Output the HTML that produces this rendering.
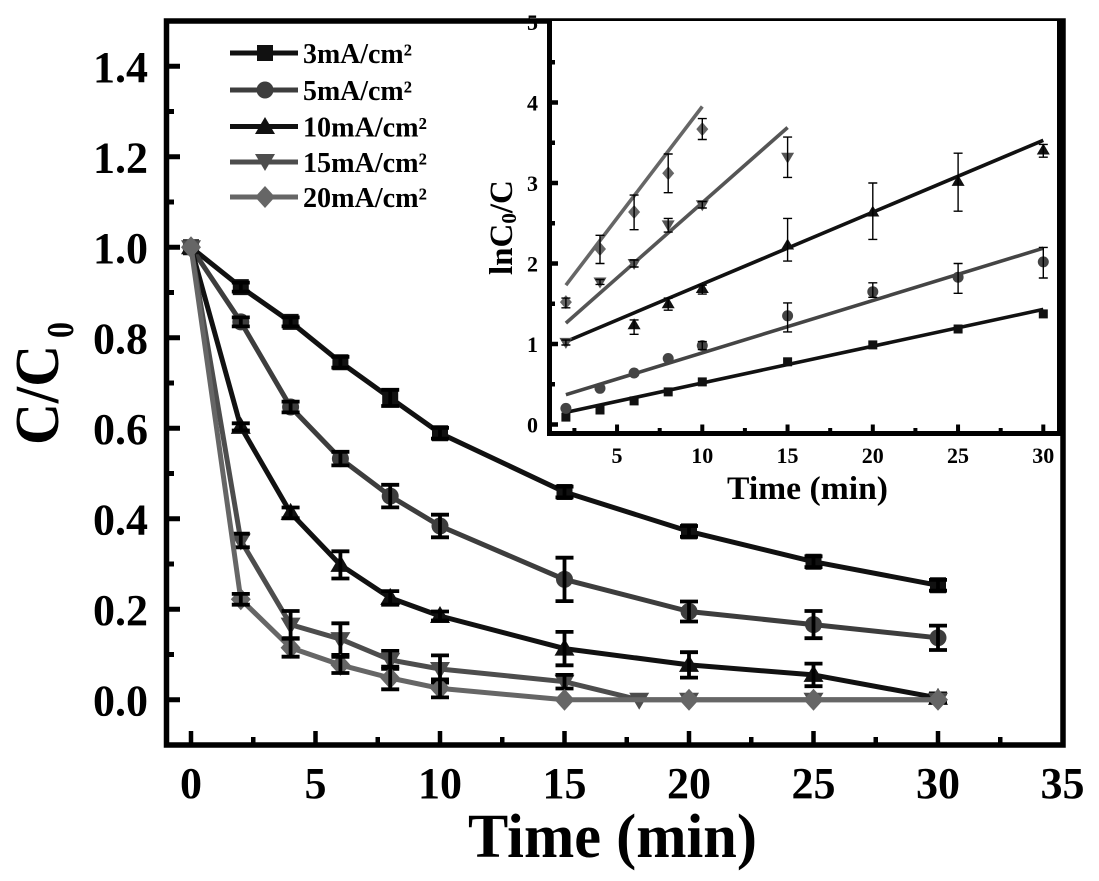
<!DOCTYPE html>
<html><head><meta charset="utf-8"><style>
html,body{margin:0;padding:0;background:#fff;}
svg{display:block;}
text{font-family:"Liberation Serif","Times New Roman",serif;font-weight:bold;fill:#000;}
</style></head><body>
<svg width="1099" height="881" viewBox="0 0 1099 881" xmlns="http://www.w3.org/2000/svg">
<defs>
<path id="sq" d="M-8,-8h16v16h-16z"/>
<circle id="ci" r="8.5"/>
<path id="tr" d="M0,-10L10,7L-10,7z"/>
<path id="dt" d="M0,10L10,-7L-10,-7z"/>
<path id="di" d="M0,-11L10,0L0,11L-10,0z"/>
<path id="isq" d="M-4.5,-4.5h9v9h-9z"/>
<circle id="ici" r="5.5"/>
<path id="itr" d="M0,-6.5L6.5,4.5L-6.5,4.5z"/>
<path id="idt" d="M0,6.5L6.5,-4.5L-6.5,-4.5z"/>
<path id="idi" d="M0,-7L6,0L0,7L-6,0z"/>
</defs>
<rect width="1099" height="881" fill="#fff"/>

<!-- main series -->
<g fill="none" stroke-width="5" stroke-linejoin="round">
<polyline stroke="#111" points="191,247.3 240.8,287.1 290.6,321.9 340.4,362.2 390.2,397.9 440,433.2 564.5,492 689,531.4 813.5,561.7 938,585.3"/>
</g>
<g fill="#111">
<use href="#sq" x="191" y="247.3"/><use href="#sq" x="240.8" y="287.1"/><use href="#sq" x="290.6" y="321.9"/><use href="#sq" x="340.4" y="362.2"/><use href="#sq" x="390.2" y="397.9"/><use href="#sq" x="440" y="433.2"/><use href="#sq" x="564.5" y="492"/><use href="#sq" x="689" y="531.4"/><use href="#sq" x="813.5" y="561.7"/><use href="#sq" x="938" y="585.3"/>
</g>
<path stroke="#000" stroke-width="3.8" fill="none" d="M240.8,282.6V291.6M231.8,282.6H249.8M231.8,291.6H249.8 M290.6,317.4V326.4M281.6,317.4H299.6M281.6,326.4H299.6 M340.4,356.8V367.6M331.4,356.8H349.4M331.4,367.6H349.4 M390.2,389.8V406M381.2,389.8H399.2M381.2,406H399.2 M440,427.8V438.6M431,427.8H449M431,438.6H449 M564.5,486.6V497.4M555.5,486.6H573.5M555.5,497.4H573.5 M689,526V536.8M680,526H698M680,536.8H698 M813.5,556.3V567.1M804.5,556.3H822.5M804.5,567.1H822.5 M938,579.9V590.7M929,579.9H947M929,590.7H947"/>

<polyline fill="none" stroke-width="5" stroke-linejoin="round" stroke="#3d3d3d" points="191,247.3 240.8,321.9 290.6,407 340.4,458.6 390.2,496.1 440,526 564.5,579.4 689,611.5 813.5,624.6 938,637.8"/>
<g fill="#3d3d3d">
<use href="#ci" x="191" y="247.3"/><use href="#ci" x="240.8" y="321.9"/><use href="#ci" x="290.6" y="407"/><use href="#ci" x="340.4" y="458.6"/><use href="#ci" x="390.2" y="496.1"/><use href="#ci" x="440" y="526"/><use href="#ci" x="564.5" y="579.4"/><use href="#ci" x="689" y="611.5"/><use href="#ci" x="813.5" y="624.6"/><use href="#ci" x="938" y="637.8"/>
</g>
<path stroke="#000" stroke-width="3.8" fill="none" d="M240.8,317.4V326.4M231.8,317.4H249.8M231.8,326.4H249.8 M290.6,401.6V412.4M281.6,401.6H299.6M281.6,412.4H299.6 M340.4,451.8V465.4M331.4,451.8H349.4M331.4,465.4H349.4 M390.2,484.8V507.4M381.2,484.8H399.2M381.2,507.4H399.2 M440,514.7V537.3M431,514.7H449M431,537.3H449 M564.5,557.7V601.1M555.5,557.7H573.5M555.5,601.1H573.5 M689,601.5V621.5M680,601.5H698M680,621.5H698 M813.5,611V638.2M804.5,611H822.5M804.5,638.2H822.5 M938,625.6V650M929,625.6H947M929,650H947"/>

<polyline fill="none" stroke-width="5" stroke-linejoin="round" stroke="#111" points="191,247.3 240.8,426.9 290.6,512.9 340.4,564.9 390.2,597.9 440,616 564.5,648.6 689,664.9 813.5,674.9 938,697.9"/>
<g fill="#111">
<use href="#tr" x="191" y="247.3"/><use href="#tr" x="240.8" y="426.9"/><use href="#tr" x="290.6" y="512.9"/><use href="#tr" x="340.4" y="564.9"/><use href="#tr" x="390.2" y="597.9"/><use href="#tr" x="440" y="616"/><use href="#tr" x="564.5" y="648.6"/><use href="#tr" x="689" y="664.9"/><use href="#tr" x="813.5" y="674.9"/><use href="#tr" x="938" y="697.9"/>
</g>
<path stroke="#000" stroke-width="3.8" fill="none" d="M240.8,423.3V430.5M231.8,423.3H249.8M231.8,430.5H249.8 M290.6,507.5V518.3M281.6,507.5H299.6M281.6,518.3H299.6 M340.4,551.3V578.5M331.4,551.3H349.4M331.4,578.5H349.4 M390.2,591.1V604.7M381.2,591.1H399.2M381.2,604.7H399.2 M440,611.5V620.5M431,611.5H449M431,620.5H449 M564.5,631.9V665.3M555.5,631.9H573.5M555.5,665.3H573.5 M689,652.2V677.6M680,652.2H698M680,677.6H698 M813.5,663.6V686.2M804.5,663.6H822.5M804.5,686.2H822.5 M938,693.4V702.4M929,693.4H947M929,702.4H947"/>

<polyline fill="none" stroke-width="5" stroke-linejoin="round" stroke="#4d4d4d" points="191,247.3 240.8,540.5 290.6,624.6 340.4,639.1 390.2,659.9 440,669 564.5,681.7 639.2,699.8 689,699.8 813.5,699.8 938,699.8"/>
<g fill="#4d4d4d">
<use href="#dt" x="191" y="247.3"/><use href="#dt" x="240.8" y="540.5"/><use href="#dt" x="290.6" y="624.6"/><use href="#dt" x="340.4" y="639.1"/><use href="#dt" x="390.2" y="659.9"/><use href="#dt" x="440" y="669"/><use href="#dt" x="564.5" y="681.7"/><use href="#dt" x="639.2" y="699.8"/><use href="#dt" x="689" y="699.8"/><use href="#dt" x="813.5" y="699.8"/><use href="#dt" x="938" y="699.8"/>
</g>
<path stroke="#000" stroke-width="3.8" fill="none" d="M240.8,533.7V547.3M231.8,533.7H249.8M231.8,547.3H249.8 M290.6,611V638.2M281.6,611H299.6M281.6,638.2H299.6 M340.4,623.3V654.9M331.4,623.3H349.4M331.4,654.9H349.4 M390.2,650.9V668.9M381.2,650.9H399.2M381.2,668.9H399.2 M440,655.4V682.6M431,655.4H449M431,682.6H449 M564.5,674.9V688.5M555.5,674.9H573.5M555.5,688.5H573.5"/>

<polyline fill="none" stroke-width="5" stroke-linejoin="round" stroke="#666" points="191,247.3 240.8,599.3 290.6,647.7 340.4,664.9 390.2,678 440,688.4 564.5,699.8 689,699.8 813.5,699.8 938,699.8"/>
<g fill="#666">
<use href="#di" x="191" y="247.3"/><use href="#di" x="240.8" y="599.3"/><use href="#di" x="290.6" y="647.7"/><use href="#di" x="340.4" y="664.9"/><use href="#di" x="390.2" y="678"/><use href="#di" x="440" y="688.4"/><use href="#di" x="564.5" y="699.8"/><use href="#di" x="689" y="699.8"/><use href="#di" x="813.5" y="699.8"/><use href="#di" x="938" y="699.8"/>
</g>
<path stroke="#000" stroke-width="3.8" fill="none" d="M240.8,593.9V604.7M231.8,593.9H249.8M231.8,604.7H249.8 M290.6,638.7V656.7M281.6,638.7H299.6M281.6,656.7H299.6 M340.4,656.8V673M331.4,656.8H349.4M331.4,673H349.4 M390.2,666.7V689.3M381.2,666.7H399.2M381.2,689.3H399.2 M440,679.4V697.4M431,679.4H449M431,697.4H449"/>

<!-- main ticks -->
<path stroke="#000" stroke-width="5" fill="none" d="M169,699.75H180M169,609.25H180M169,518.75H180M169,428.25H180M169,337.75H180M169,247.25H180M169,156.75H180M169,66.25H180 M169,654.5H174M169,564H174M169,473.5H174M169,383H174M169,292.5H174M169,202H174M169,111.5H174"/>
<path stroke="#000" stroke-width="4.5" fill="none" d="M191,743V731M315.5,743V731M440,743V731M564.5,743V731M689,743V731M813.5,743V731M938,743V731 M253.25,743V737M377.75,743V737M502.25,743V737M626.75,743V737M751.25,743V737M875.75,743V737M1000.25,743V737"/>
<!-- main frame -->
<rect x="166.5" y="21" width="896.5" height="724" fill="none" stroke="#000" stroke-width="5.5"/>

<!-- main tick labels -->
<g font-size="44" text-anchor="end">
<text x="148" y="715.25">0.0</text>
<text x="148" y="624.75">0.2</text>
<text x="148" y="534.25">0.4</text>
<text x="148" y="443.75">0.6</text>
<text x="148" y="353.25">0.8</text>
<text x="148" y="262.75">1.0</text>
<text x="148" y="172.25">1.2</text>
<text x="148" y="81.75">1.4</text>
</g>
<g font-size="44" text-anchor="middle">
<text x="191" y="798">0</text>
<text x="315.5" y="798">5</text>
<text x="440" y="798">10</text>
<text x="564.5" y="798">15</text>
<text x="689" y="798">20</text>
<text x="813.5" y="798">25</text>
<text x="938" y="798">30</text>
<text x="1062.5" y="798">35</text>
</g>
<text x="468" y="857" font-size="62" textLength="289" lengthAdjust="spacingAndGlyphs">Time (min)</text>
<text transform="translate(58,445) rotate(-90)" font-size="62" textLength="100" lengthAdjust="spacingAndGlyphs">C/C</text>
<text transform="translate(73,338) rotate(-90)" font-size="38" textLength="16" lengthAdjust="spacingAndGlyphs">0</text>

<!-- legend -->
<g stroke-width="5" fill="none">
<path stroke="#111" d="M230,53H298"/>
<path stroke="#3d3d3d" d="M230,90H298"/>
<path stroke="#111" d="M230,126.5H298"/>
<path stroke="#4d4d4d" d="M230,162H298"/>
<path stroke="#666" d="M230,197H298"/>
</g>
<use href="#sq" x="265" y="53" fill="#111"/>
<use href="#ci" x="265" y="90" fill="#3d3d3d"/>
<use href="#tr" x="265" y="127" fill="#111"/>
<use href="#dt" x="265" y="161" fill="#4d4d4d"/>
<use href="#di" x="265" y="197" fill="#666"/>
<g font-size="28">
<text x="303" y="63" textLength="109" lengthAdjust="spacingAndGlyphs">3mA/cm²</text>
<text x="303" y="100" textLength="109" lengthAdjust="spacingAndGlyphs">5mA/cm²</text>
<text x="303" y="136.5" textLength="124" lengthAdjust="spacingAndGlyphs">10mA/cm²</text>
<text x="303" y="172" textLength="124" lengthAdjust="spacingAndGlyphs">15mA/cm²</text>
<text x="303" y="207" textLength="124" lengthAdjust="spacingAndGlyphs">20mA/cm²</text>
</g>

<!-- inset -->
<rect x="549.5" y="21" width="510" height="412.5" fill="#fff"/>
<g stroke-width="3.6" fill="none" stroke-linecap="butt">
<line x1="565.9" y1="412.4" x2="1043.3" y2="309.4" stroke="#111"/>
<line x1="565.9" y1="394.7" x2="1043.3" y2="248.2" stroke="#444"/>
<line x1="565.9" y1="341.6" x2="1043.3" y2="140.3" stroke="#111"/>
<line x1="565.9" y1="323.1" x2="787.6" y2="127.5" stroke="#555"/>
<line x1="565.9" y1="285.2" x2="702.3" y2="106.5" stroke="#666"/>
</g>
<g fill="#111">
<use href="#isq" x="565.9" y="417.1"/><use href="#isq" x="600" y="410"/><use href="#isq" x="634.1" y="400.9"/><use href="#isq" x="668.2" y="391.9"/><use href="#isq" x="702.3" y="381.9"/><use href="#isq" x="787.6" y="361.8"/><use href="#isq" x="872.8" y="344.9"/><use href="#isq" x="958.1" y="329"/><use href="#isq" x="1043.3" y="313.9"/>
</g>
<g fill="#444">
<use href="#ici" x="565.9" y="408.4"/><use href="#ici" x="600" y="388.3"/><use href="#ici" x="634.1" y="373"/><use href="#ici" x="668.2" y="358.5"/><use href="#ici" x="702.3" y="345.6"/><use href="#ici" x="787.6" y="315.8"/><use href="#ici" x="872.8" y="291.7"/><use href="#ici" x="958.1" y="277.2"/><use href="#ici" x="1043.3" y="261.9"/>
</g>
<g fill="#111">
<use href="#itr" x="634.1" y="324.7"/><use href="#itr" x="668.2" y="303.75"/><use href="#itr" x="702.3" y="288.5"/><use href="#itr" x="787.6" y="245"/><use href="#itr" x="872.8" y="212"/><use href="#itr" x="958.1" y="181.4"/><use href="#itr" x="1043.3" y="150"/>
</g>
<g fill="#555">
<use href="#idt" x="565.9" y="342.4"/><use href="#idt" x="600" y="282"/><use href="#idt" x="634.1" y="263.5"/><use href="#idt" x="668.2" y="224.9"/><use href="#idt" x="702.3" y="204.7"/><use href="#idt" x="787.6" y="157.2"/>
</g>
<g fill="#666">
<use href="#idi" x="565.9" y="302.1"/><use href="#idi" x="600" y="249"/><use href="#idi" x="634.1" y="212"/><use href="#idi" x="668.2" y="173.3"/><use href="#idi" x="702.3" y="129.1"/>
</g>
<path stroke="#000" stroke-width="1.4" fill="none" d="
M565.9,298.1V307.8M561.4,298.1H570.4M561.4,307.8H570.4
M600,235.3V263.5M595.5,235.3H604.5M595.5,263.5H604.5
M634.1,195.1V229.7M629.6,195.1H638.6M629.6,229.7H638.6
M668.2,154V192.7M663.7,154H672.7M663.7,192.7H672.7
M702.3,118.6V139.5M697.8,118.6H706.8M697.8,139.5H706.8
M565.9,340V345M561.4,340H570.4M561.4,345H570.4
M600,279.6V284.4M595.5,279.6H604.5M595.5,284.4H604.5
M634.1,260V267M629.6,260H638.6M629.6,267H638.6
M668.2,218.4V232.1M663.7,218.4H672.7M663.7,232.1H672.7
M702.3,201.5V208M697.8,201.5H706.8M697.8,208H706.8
M787.6,137.1V177.4M783.1,137.1H792.1M783.1,177.4H792.1
M634.1,319.9V334.3M629.6,319.9H638.6M629.6,334.3H638.6
M668.2,298.1V310.2M663.7,298.1H672.7M663.7,310.2H672.7
M702.3,285.2V294.1M697.8,285.2H706.8M697.8,294.1H706.8
M787.6,218.4V261.1M783.1,218.4H792.1M783.1,261.1H792.1
M872.8,183V239.4M868.3,183H877.3M868.3,239.4H877.3
M958.1,153.2V211.2M953.6,153.2H962.6M953.6,211.2H962.6
M1043.3,144.4V157.2M1038.8,144.4H1047.8M1038.8,157.2H1047.8
M702.3,341.6V349.6M697.8,341.6H706.8M697.8,349.6H706.8
M787.6,302.9V331.9M783.1,302.9H792.1M783.1,331.9H792.1
M872.8,282.8V297.3M868.3,282.8H877.3M868.3,297.3H877.3
M958.1,263.5V293.3M953.6,263.5H962.6M953.6,293.3H962.6
M1043.3,247.4V278M1038.8,247.4H1047.8M1038.8,278H1047.8"/>

<!-- inset ticks -->
<path stroke="#000" stroke-width="4.5" fill="none" d="M552,424.5H558M552,344H558M552,263.5H558M552,183H558M552,102.5H558 M552,384.25H555M552,303.75H555M552,223.25H555M552,142.75H555M552,62.25H555"/>
<path stroke="#000" stroke-width="4" fill="none" d="M617.05,431V424.5M702.3,431V424.5M787.55,431V424.5M872.8,431V424.5M958.05,431V424.5M1043.3,431V424.5 M574.4,431V428M659.7,431V428M744.9,431V428M830.2,431V428M915.4,431V428M1000.7,431V428"/>
<!-- inset frame -->
<path stroke="#000" stroke-width="5" fill="none" d="M549.5,19V433.5H1062M1059.5,21V433.5"/>

<g font-size="22" text-anchor="end">
<text x="538" y="432.5">0</text>
<text x="538" y="352">1</text>
<text x="538" y="271.5">2</text>
<text x="538" y="191">3</text>
<text x="538" y="110.5">4</text>
<text x="538" y="30">5</text>
</g>
<g font-size="22" text-anchor="middle">
<text x="617.05" y="463">5</text>
<text x="702.3" y="463">10</text>
<text x="787.55" y="463">15</text>
<text x="872.8" y="463">20</text>
<text x="958.05" y="463">25</text>
<text x="1043.3" y="463">30</text>
</g>
<text x="727" y="499" font-size="33" textLength="161" lengthAdjust="spacingAndGlyphs">Time (min)</text>
<text transform="translate(512,275) rotate(-90)" font-size="33">lnC<tspan font-size="21" dy="4">0</tspan><tspan dy="-4">/C</tspan></text>
</svg>
</body></html>
